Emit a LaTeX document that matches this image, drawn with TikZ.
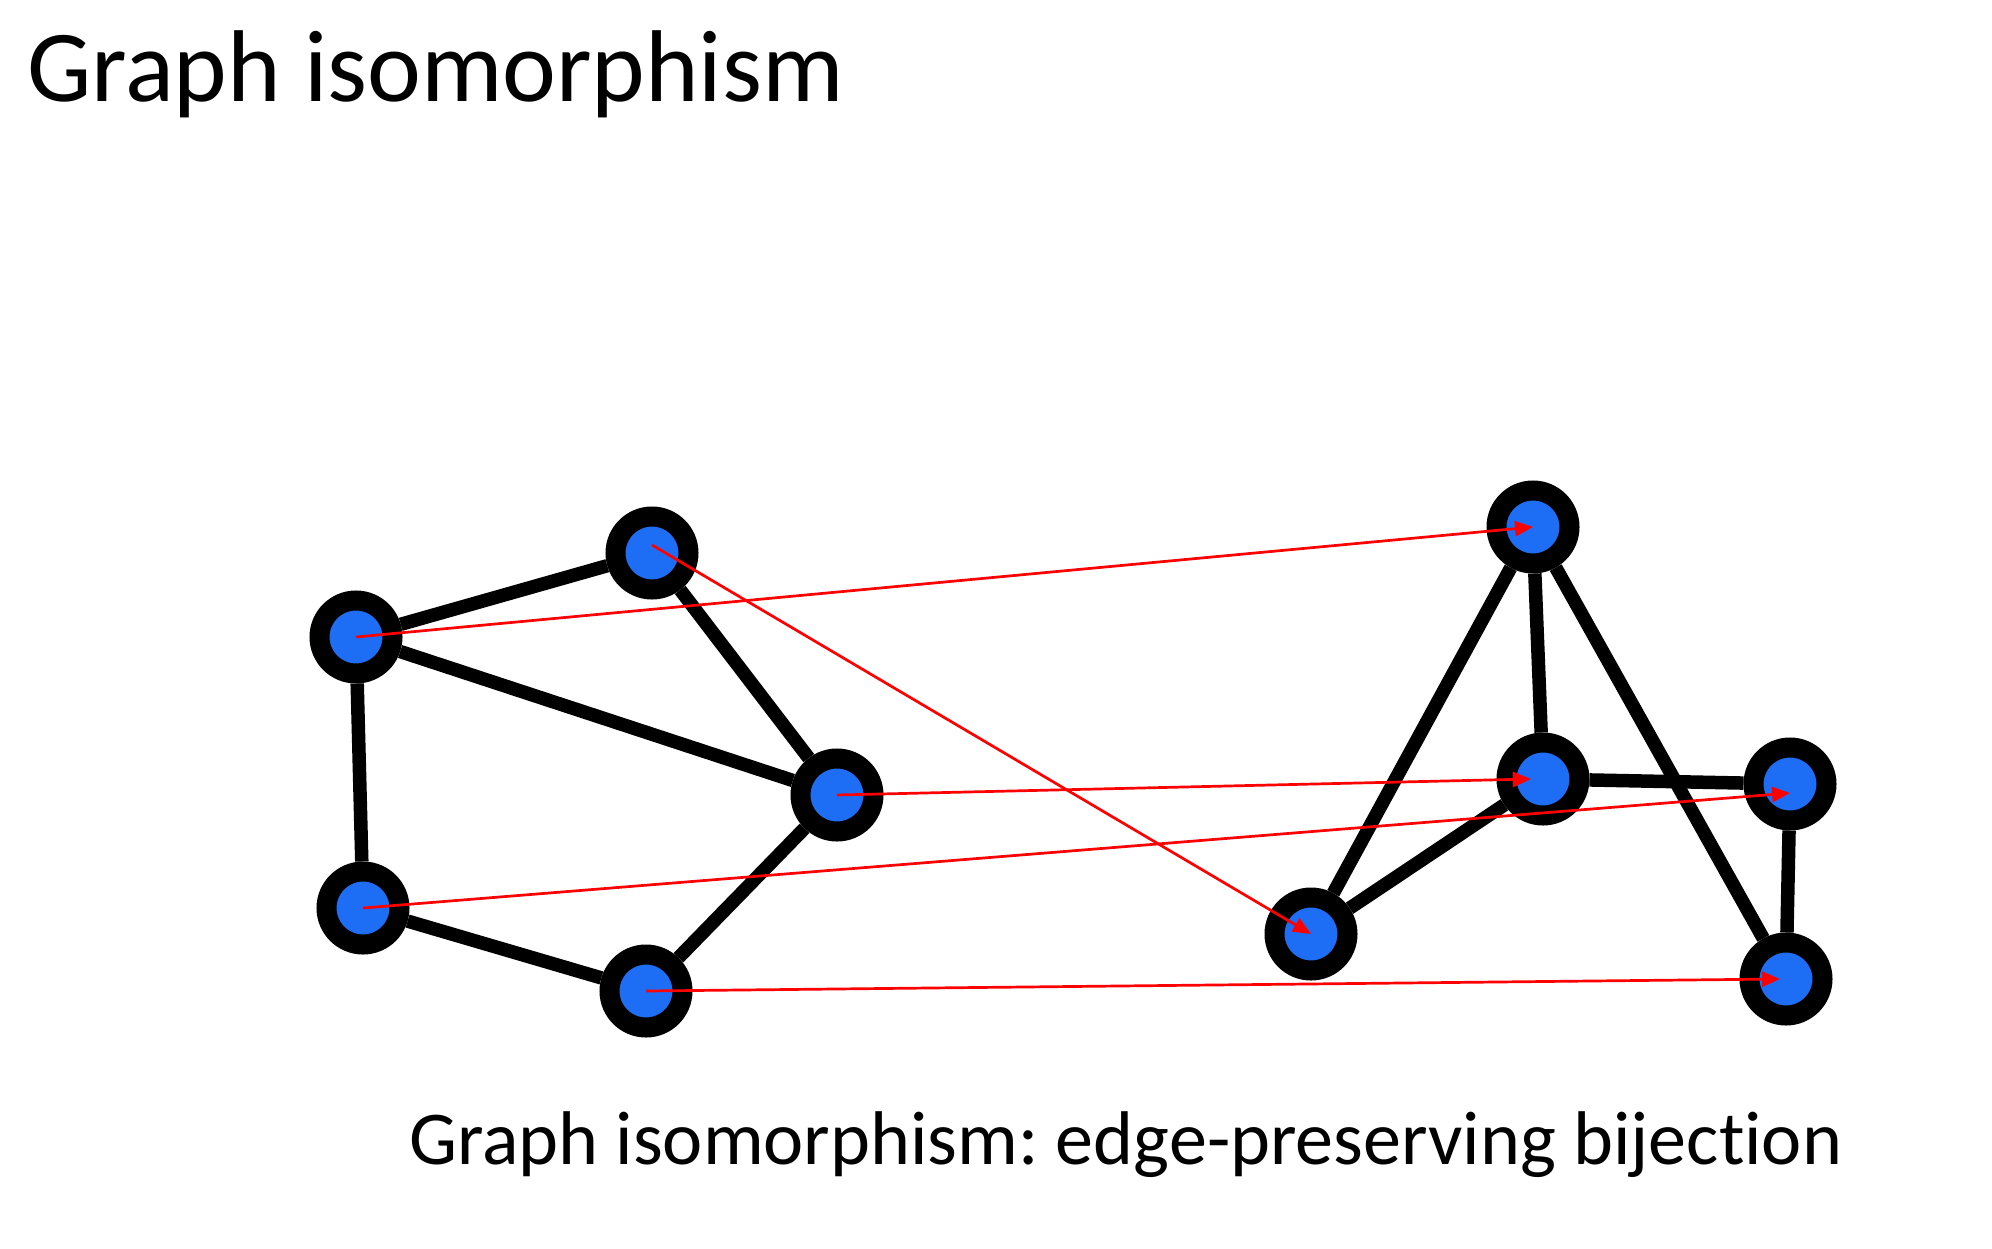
\documentclass[tikz,border=0pt]{standalone}
\usepackage{fontspec}
\setmainfont{Carlito}[Ligatures=NoCommon]
\usetikzlibrary{arrows.meta}
\definecolor{vblue}{RGB}{30,110,245}
\frenchspacing
\tikzset{
  vtx/.style={circle, fill=vblue, draw=black, line width=20pt, minimum size=73pt, inner sep=0pt},
  gedge/.style={line width=13.5pt, black},
  mapar/.style={red, line width=2.7pt, -{Triangle[length=18pt,width=15pt]}},
  ttl/.style={anchor=base west, inner sep=0pt, font=\fontsize{102}{120}\selectfont},
  sub/.style={anchor=base west, inner sep=0pt, font=\fontsize{76.1}{90}\selectfont}
}
\begin{document}
\begin{tikzpicture}[x=1pt,y=-1pt]
\fill[white] (0,0) rectangle (1992,1248);
\useasboundingbox (0,0) rectangle (1992,1248);
\node[ttl] (title) at (27,101) {Graph isomorphism};
\node[sub] (subtitle) at (409,1164.5) {Graph isomorphism: edge-preserving bijection};
% left graph
\node[vtx] (A) at (356,637) {};
\node[vtx] (B) at (652,553) {};
\node[vtx] (C) at (837,795) {};
\node[vtx] (D) at (363,908) {};
\node[vtx] (E) at (646,991) {};
% right graph
\node[vtx] (F) at (1533,527) {};
\node[vtx] (G) at (1543,779) {};
\node[vtx] (H) at (1790,784) {};
\node[vtx] (I) at (1311,934) {};
\node[vtx] (J) at (1786,979) {};
% edges
\draw[gedge] (A) -- (B);
\draw[gedge] (A) -- (C);
\draw[gedge] (B) -- (C);
\draw[gedge] (A) -- (D);
\draw[gedge] (D) -- (E);
\draw[gedge] (E) -- (C);
\draw[gedge] (F) -- (G);
\draw[gedge] (F) -- (I);
\draw[gedge] (F) -- (J);
\draw[gedge] (G) -- (H);
\draw[gedge] (G) -- (I);
\draw[gedge] (H) -- (J);
% mapping
\draw[mapar] (A.center) -- (F.center);
\draw[mapar] ([yshift=8pt]B.center) -- (I.center);
\draw[mapar] (C.center) -- ([xshift=-12pt]G.center);
\draw[mapar] (D.center) -- ([yshift=-9pt]H.center);
\draw[mapar] (E.center) -- ([xshift=-6pt]J.center);
\end{tikzpicture}
\end{document}
